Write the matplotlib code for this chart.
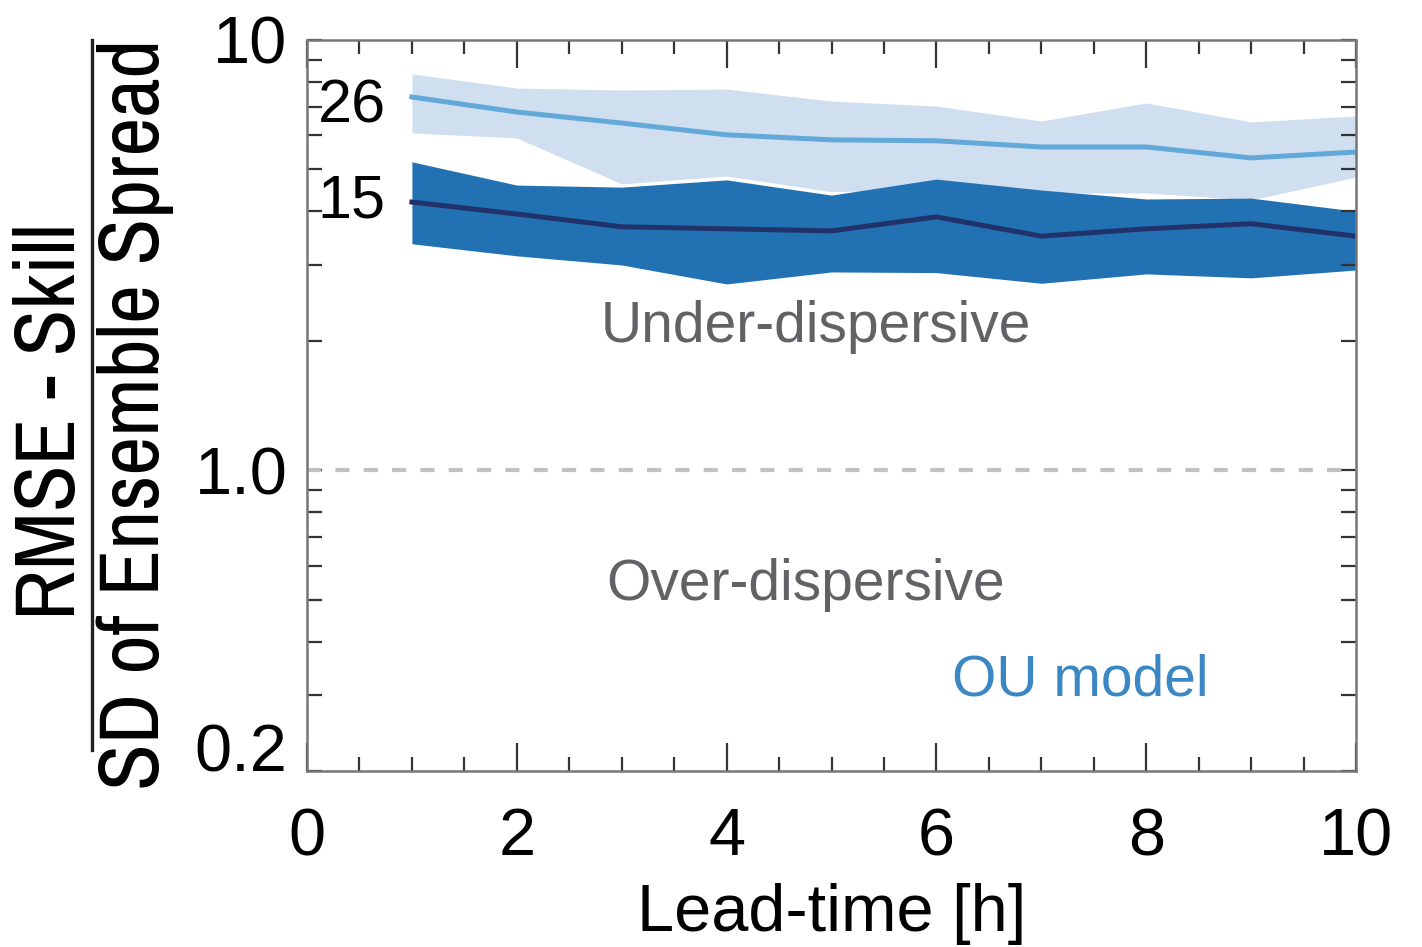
import numpy as np
import matplotlib
matplotlib.use("Agg")
import matplotlib.pyplot as plt
from matplotlib import font_manager
from matplotlib.ticker import FixedLocator, NullFormatter, LogLocator, MultipleLocator

# lead time [h]
lead = [1, 2, 3, 4, 5, 6, 7, 8, 9, 10]

# 26-member ensemble: ratio and spread band
ens26_mid = [7.37, 6.80, 6.41, 6.02, 5.86, 5.83, 5.64, 5.64, 5.32, 5.49]
ens26_hi = [8.34, 7.73, 7.65, 7.69, 7.21, 7.02, 6.48, 7.14, 6.45, 6.66]
ens26_lo = [6.08, 5.92, 4.63, 4.83, 4.44, 4.49, 4.41, 4.41, 4.25, 4.80]

# 15-member ensemble
ens15_mid = [4.20, 3.94, 3.68, 3.64, 3.60, 3.88, 3.50, 3.64, 3.74, 3.50]
ens15_hi = [5.21, 4.60, 4.55, 4.73, 4.36, 4.75, 4.48, 4.27, 4.29, 4.00]
ens15_lo = [3.36, 3.15, 3.00, 2.71, 2.89, 2.88, 2.72, 2.86, 2.80, 2.92]

ytick_vals = [0.2, 1.0, 10]
ytick_labels = ["0.2", "1.0", "10"]

# look for a condensed face for the y label, otherwise plain sans
narrow = None
for f in font_manager.fontManager.ttflist:
    if "Narrow" in f.name or "Condensed" in f.name:
        narrow = f.name
        break
if narrow is None:
    narrow = "Liberation Sans"

plt.rcParams["font.family"] = ["Liberation Sans", "DejaVu Sans"]

fig = plt.figure(figsize=(14.22, 9.47), dpi=100)
ax = fig.add_axes([0.2159, 0.1858, 0.7377, 0.7720])

ax.fill_between(lead, ens26_lo, ens26_hi, color="#cfdff0", lw=0)
ax.plot(lead, ens26_mid, color="#62a9d9", lw=3.6)
ax.fill_between(lead, ens15_lo, ens15_hi, color="#2271b3", lw=0)
ax.plot(lead, ens15_mid, color="#21326a", lw=3.6)

ax.axhline(1.0, color="#c2c2c2", lw=3.0, ls=(0, (3.4, 3.4)))

ax.set_yscale("log")
ax.set_xlim(0, 10)
ax.set_ylim(0.2, 10)

ax.xaxis.set_major_locator(MultipleLocator(2))
ax.xaxis.set_minor_locator(MultipleLocator(0.5))
ax.yaxis.set_major_locator(FixedLocator(ytick_vals))
ax.set_yticklabels(ytick_labels)
ax.yaxis.set_minor_locator(LogLocator(base=10, subs=np.arange(2, 10)))
ax.yaxis.set_minor_formatter(NullFormatter())

ax.tick_params(which="both", direction="in", top=True, right=True,
               color="#333333", width=1.6, labelsize=48)
ax.tick_params(axis="x", which="major", length=20, pad=26)
ax.tick_params(axis="x", which="minor", length=10)
ax.tick_params(axis="y", which="both", length=11, pad=14)
for lab in ax.get_yticklabels():
    if lab.get_text() == "0.2":
        lab.set_verticalalignment("baseline")
for s in ax.spines.values():
    s.set_color("#777777")
    s.set_linewidth(1.8)

ax.set_xlabel("Lead-time [h]", fontsize=48, labelpad=10)

ax.text(0.1, 7.0, "26", fontsize=44, va="center", ha="left")
ax.text(0.1, 4.2, "15", fontsize=44, va="center", ha="left")
ax.text(4.85, 2.15, "Under-dispersive", fontsize=41, color="#616265",
        ha="center", va="center")
ax.text(4.75, 0.54, "Over-dispersive", fontsize=41, color="#616265",
        ha="center", va="center")
ax.text(7.37, 0.325, "OU model", fontsize=41, color="#3a87c4",
        ha="center", va="center")

# fraction style y label, sized so the denominator spans the axis height
num = fig.text(52 / 1422, 1 - 422 / 947, "RMSE - Skill", rotation=90, fontsize=56,
               family=narrow, ha="center", va="center")
den = fig.text(135 / 1422, 1 - 414 / 947, "SD of Ensemble Spread", rotation=90,
               fontsize=56, family=narrow, ha="center", va="center")
r = fig.canvas.get_renderer()
h = den.get_window_extent(r).height
fs = 56 * 752 / h
num.set_fontsize(fs)
den.set_fontsize(fs)
fig.add_artist(plt.Line2D([92 / 1422, 92 / 1422], [1 - 40 / 947, 1 - 750 / 947],
                          color="#222222", lw=2.4, transform=fig.transFigure))

fig.savefig("out.png", dpi=100)
